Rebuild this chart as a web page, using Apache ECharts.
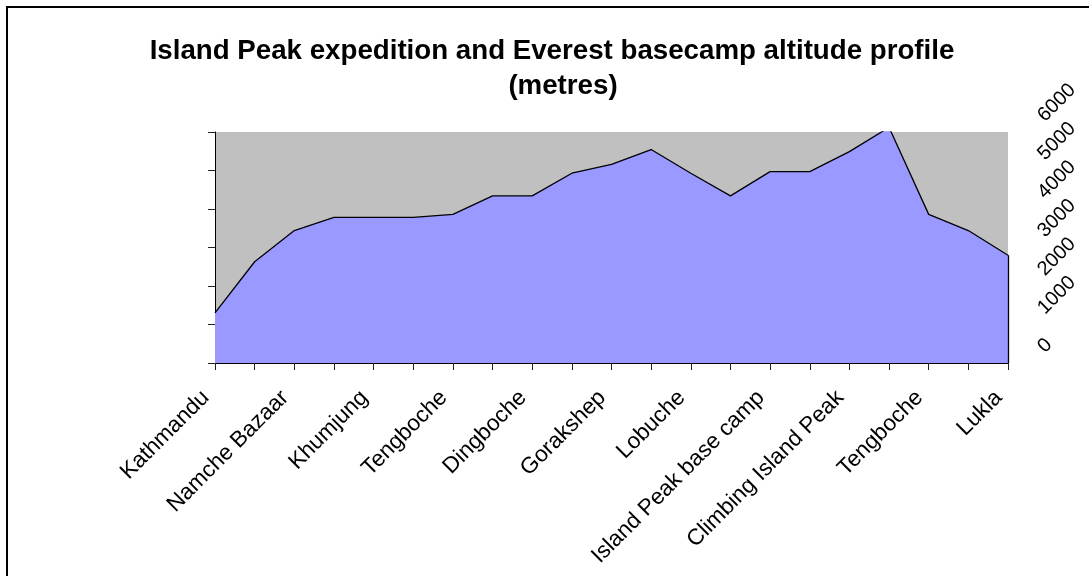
<!DOCTYPE html>
<html>
<head>
<meta charset="utf-8">
<script src="https://cdn.jsdelivr.net/npm/echarts@6/dist/echarts.min.js"></script>
<style>
  html, body { margin: 0; padding: 0; overflow: hidden; background: #fff; }
  #main { position: absolute; left: 0; top: 0; width: 1089px; height: 576px; }
  #frame { position: absolute; left: 6px; top: 6px; width: 1110px; height: 620px; border: 2px solid #000; pointer-events: none; }
</style>
</head>
<body>
<div id="main"></div>
<div id="frame"></div>
<script>
const titleLine1 = 'Island Peak expedition and Everest basecamp altitude profile';
const titleLine2 = '(metres)';
const categories = [
  'Kathmandu', '', 'Namche Bazaar', '', 'Khumjung', '', 'Tengboche', '', 'Dingboche', '',
  'Gorakshep', '', 'Lobuche', '', 'Island Peak base camp', '', 'Climbing Island Peak', '',
  'Tengboche', '', 'Lukla'
];
const altitudes = [
  1300, 2630, 3440, 3780, 3780, 3780, 3860, 4340, 4340, 4930,
  5160, 5545, 4930, 4340, 4970, 4970, 5490, 6120, 3860, 3440, 2800
];
const yMin = 0, yMax = 6000, yStep = 1000;

const FONT = 'Liberation Sans, Arial, sans-serif';
const chart = echarts.init(document.getElementById('main'));
const lastIdx = altitudes.length - 1;
const titleStyle = { fontFamily: FONT, fontSize: 27.7, fontWeight: 'bold', color: '#000', lineHeight: 35 };

chart.setOption({
  animation: false,
  backgroundColor: '#ffffff',
  title: [
    { text: titleLine1, left: 547, textAlign: 'center', top: 29, textStyle: titleStyle },
    { text: titleLine2, left: 558, textAlign: 'center', top: 64, textStyle: titleStyle }
  ],
  grid: [
    { left: 215, right: 81, top: 132, bottom: 213, show: true, backgroundColor: '#C0C0C0', borderWidth: 0, containLabel: false },
    { left: 215, right: 81, top: 118.5, bottom: 226.5, show: false, containLabel: false }
  ],
  xAxis: [
    {
      gridIndex: 0, type: 'category', data: categories, boundaryGap: false,
      axisLine: { show: true, lineStyle: { color: '#000', width: 1 } },
      axisTick: { show: true, interval: 0, length: 7, lineStyle: { color: '#222' } },
      axisLabel: { interval: 1, rotate: 45, margin: 22, padding: [0, 13, 0, 0], fontFamily: FONT, fontSize: 22.5, color: '#000' },
      splitLine: { show: false }
    },
    { gridIndex: 1, type: 'category', data: categories, boundaryGap: false, show: false }
  ],
  yAxis: [
    {
      gridIndex: 0, type: 'value', position: 'left', min: yMin, max: yMax, interval: yStep,
      axisLine: { show: true, lineStyle: { color: '#000', width: 1 } },
      axisTick: { show: true, length: 7, lineStyle: { color: '#222' } },
      axisLabel: { show: false },
      splitLine: { show: false }
    },
    {
      gridIndex: 1, type: 'value', position: 'right', min: yMin, max: yMax, interval: yStep,
      axisLine: { show: false }, axisTick: { show: false }, splitLine: { show: false },
      axisLabel: { rotate: 45, margin: 33, fontFamily: FONT, fontSize: 20, color: '#000', formatter: function (v) { return String(v); } }
    }
  ],
  series: [{
    type: 'line',
    xAxisIndex: 0, yAxisIndex: 0,
    data: altitudes,
    symbol: 'none',
    clip: true,
    lineStyle: { color: '#000', width: 1.3 },
    areaStyle: { color: '#9999FF', opacity: 1 },
    markLine: {
      silent: true, symbol: 'none', label: { show: false },
      lineStyle: { color: '#000', width: 1.3, type: 'solid' },
      data: [[{ coord: [lastIdx, yMin] }, { coord: [lastIdx, altitudes[lastIdx]] }]]
    }
  }]
});
</script>
</body>
</html>
